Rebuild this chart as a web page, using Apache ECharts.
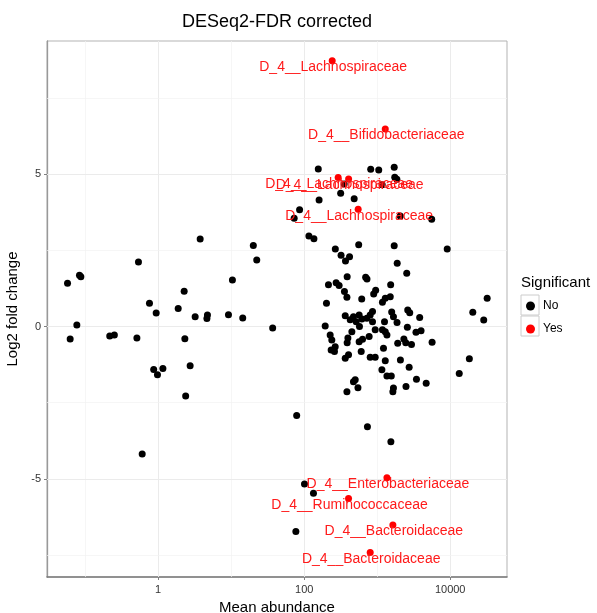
<!DOCTYPE html>
<html><head><meta charset="utf-8">
<script src="https://cdn.jsdelivr.net/npm/echarts@6/dist/echarts.min.js"></script>
<style>html,body{margin:0;padding:0;background:#fff}#c{width:597px;height:613px}</style>
</head><body><div id="c"></div>
<script>
const categories = ['No', 'Yes'];

const noAbundance = [
  0.0573, 0.0836, 0.0873, 0.0769, 0.0623, 0.217, 0.251, 0.511, 0.537, 0.760,
  0.939, 0.868, 1.16, 0.978, 0.604, 1.88, 2.27, 2.32, 2.74, 2.38,
  3.21, 4.73, 4.65, 3.76, 9.18, 10.4, 14.4, 20.1, 22.4, 37.0,
  78.9, 86.5, 72.9, 116, 136, 156, 160, 316, 484, 353,
  1170, 815, 1050, 1710, 1740, 1860, 2070, 5580, 9100, 558,
  1710, 267, 320, 418, 368, 1880, 2540, 388, 695, 725,
  215, 274, 301, 1530, 356, 385, 614, 895, 953, 1180,
  1290, 202, 1510, 365, 427, 473, 566, 617, 722, 802,
  863, 863, 516, 1260, 1670, 194, 227, 239, 450, 572,
  939, 1180, 1290, 397, 388, 630, 566, 776, 1360, 234,
  266, 260, 604, 365, 405, 802, 939, 1220, 1290, 1160,
  1360, 1560, 1670, 500, 473, 545, 385, 735, 1640, 2480,
  3450, 4690, 13300, 18300, 32100, 20400, 28800, 2620, 2790, 3820,
  1870, 2590, 3400, 3990, 2320, 2460, 1910, 2950, 5650, 2080,
  2740, 1580, 1540, 101, 134, 76.9
];
const noLog2FC = [
  1.42, 1.68, 1.63, 0.05, -0.41, -0.31, -0.28, -0.38, 2.12, 0.76,
  0.44, -1.41, -1.38, -1.58, -4.18, 0.59, 1.16, -0.40, -1.29, -2.28,
  0.32, 0.38, 0.26, 2.87, 0.39, 1.53, 0.28, 2.66, 2.18, -0.05,
  -2.92, 3.83, 3.55, 2.97, 2.88, 5.17, 4.15, 4.37, 4.19, 4.68,
  4.65, 5.16, 5.14, 5.23, 4.90, 4.83, 3.63, 3.52, 2.54, 2.68,
  2.65, 2.54, 2.34, 2.29, 2.15, 2.08, 1.75, 1.63, 1.62, 1.56,
  1.37, 1.44, 1.35, 1.37, 1.15, 0.96, 0.90, 1.07, 1.19, 0.80,
  0.93, 0.76, 0.98, 0.35, 0.22, 0.32, 0.38, 0.25, 0.27, 0.38,
  0.49, 0.16, 0.16, 0.16, 0.32, 0.02, -0.28, -0.44, -0.17, 0.00,
  -0.11, -0.11, -0.17, -0.38, -0.53, -0.42, -0.50, -0.33, -0.28, -0.77,
  -0.66, -0.82, -0.82, -1.04, -0.93, -1.01, -1.01, -0.71, -1.12, -1.42,
  -1.62, -1.62, -2.02, -1.75, -1.81, -2.01, -2.14, -3.29, -2.14, -1.97,
  -1.73, -1.86, -1.54, -1.06, 0.93, 0.47, 0.21, 0.54, 0.45, 0.30,
  0.13, -0.02, -0.19, -0.14, -0.41, -0.53, -0.55, -0.59, -0.52, -1.10,
  -1.34, 0.48, -3.78, -5.17, -5.47, -6.73
];

const yesAbundance = [242, 1290, 292, 406, 549, 1360, 405, 1640, 802];
const yesLog2FC = [8.72, 6.48, 4.89, 4.84, 3.85, -4.96, -5.64, -6.51, -7.42];
const yesLabels = [
  'D_4__Lachnospiraceae', 'D_4__Bifidobacteriaceae', 'D_4__Lachnospiraceae',
  'D_4__Lachnospiraceae', 'D_4__Lachnospiraceae', 'D_4__Enterobacteriaceae',
  'D_4__Ruminococcaceae', 'D_4__Bacteroidaceae', 'D_4__Bacteroidaceae'
];

const xTickLabels = [1, 100, 10000];
const yTickLabels = [-5, 0, 5];
const xGridMinor = [0.1, 10, 1000];
const yGridMinor = [-7.5, -2.5, 2.5, 7.5];

const FONT = "'Liberation Sans', Arial, Helvetica, sans-serif";

const noData = noAbundance.map((v, i) => [v, noLog2FC[i]]);
const yesData = yesAbundance.map((v, i) => ({ value: [v, yesLog2FC[i]], name: yesLabels[i] }));

const gridLines = [];
xTickLabels.forEach(v => gridLines.push({ xAxis: v, lineStyle: { color: '#ebebeb', width: 1, type: 'solid' } }));
xGridMinor.forEach(v => gridLines.push({ xAxis: v, lineStyle: { color: '#f2f2f2', width: 0.7, type: 'solid' } }));
yTickLabels.forEach(v => gridLines.push({ yAxis: v, lineStyle: { color: '#ebebeb', width: 1, type: 'solid' } }));
yGridMinor.forEach(v => gridLines.push({ yAxis: v, lineStyle: { color: '#f2f2f2', width: 0.7, type: 'solid' } }));

const chart = echarts.init(document.getElementById('c'), null, { renderer: 'canvas' });
chart.setOption({
  animation: false,
  backgroundColor: '#fff',
  textStyle: { fontFamily: FONT },
  grid: { left: 47, right: 90, top: 41, bottom: 36, show: true, borderColor: '#b3b3b3', borderWidth: 1, backgroundColor: '#fff', containLabel: false, outerBoundsMode: 'none' },
  xAxis: {
    type: 'log', logBase: 10, min: 0.03, max: 60000,
    name: 'Mean abundance', nameLocation: 'middle', nameGap: 23,
    nameTextStyle: { fontSize: 15, color: '#000', fontFamily: FONT },
    axisLine: { show: true, onZero: false, lineStyle: { color: '#7a7a7a', width: 1.6 } },
    axisTick: { show: true, customValues: xTickLabels, length: 3, lineStyle: { color: '#808080' } },
    axisLabel: { customValues: xTickLabels, formatter: v => String(v), fontSize: 11, color: '#333', margin: 7, fontFamily: FONT },
    splitLine: { show: false }, minorSplitLine: { show: false }
  },
  yAxis: {
    type: 'value', min: -8.22, max: 9.37,
    name: 'Log2 fold change', nameLocation: 'middle', nameGap: 22,
    nameTextStyle: { fontSize: 15, color: '#000', fontFamily: FONT },
    axisLine: { show: true, onZero: false, lineStyle: { color: '#999', width: 1.3 } },
    axisTick: { show: true, customValues: yTickLabels, length: 3, lineStyle: { color: '#808080' } },
    axisLabel: { customValues: yTickLabels, formatter: v => String(v), fontSize: 11, color: '#333', margin: 6, fontFamily: FONT },
    splitLine: { show: false }
  },
  legend: {
    data: categories, orient: 'vertical', left: 521, top: 295,
    itemWidth: 9, itemHeight: 9, itemGap: 11, icon: 'circle', selectedMode: false,
    textStyle: { fontSize: 12, lineHeight: 10, color: '#000', fontFamily: FONT, padding: [0, 0, 0, 3] }
  },
  graphic: [
    { type: 'text', x: 277, y: 22, z: 10, style: { text: 'DESeq2-FDR corrected', fill: '#000', font: "18px 'Liberation Sans', Arial, sans-serif", align: 'center', verticalAlign: 'middle' } },
    { type: 'text', x: 521, y: 283, z: 10, style: { text: 'Significant', fill: '#000', font: "15px 'Liberation Sans', Arial, sans-serif", align: 'left', verticalAlign: 'middle' } },
    { type: 'rect', z: 1, shape: { x: 521, y: 295, width: 18, height: 20 }, style: { fill: '#fff', stroke: '#cccccc', lineWidth: 1 } },
    { type: 'rect', z: 1, shape: { x: 521, y: 316, width: 18, height: 20 }, style: { fill: '#fff', stroke: '#cccccc', lineWidth: 1 } }
  ],
  series: [
    {
      type: 'line', data: [], silent: true, z: 1,
      markLine: { silent: true, z: 1, symbol: 'none', animation: false, label: { show: false }, data: gridLines }
    },
    {
      name: 'No', type: 'scatter', data: noData, symbolSize: 7, z: 3,
      itemStyle: { color: '#000', opacity: 1 }
    },
    {
      name: 'Yes', type: 'scatter', data: yesData, symbolSize: 7, z: 4,
      itemStyle: { color: '#ff0000', opacity: 1 },
      label: {
        show: true, position: [4.5, 10], align: 'center', verticalAlign: 'middle', formatter: p => p.name,
        color: '#ff1a1a', fontSize: 14, fontFamily: FONT
      }
    }
  ]
});
</script>
</body></html>
